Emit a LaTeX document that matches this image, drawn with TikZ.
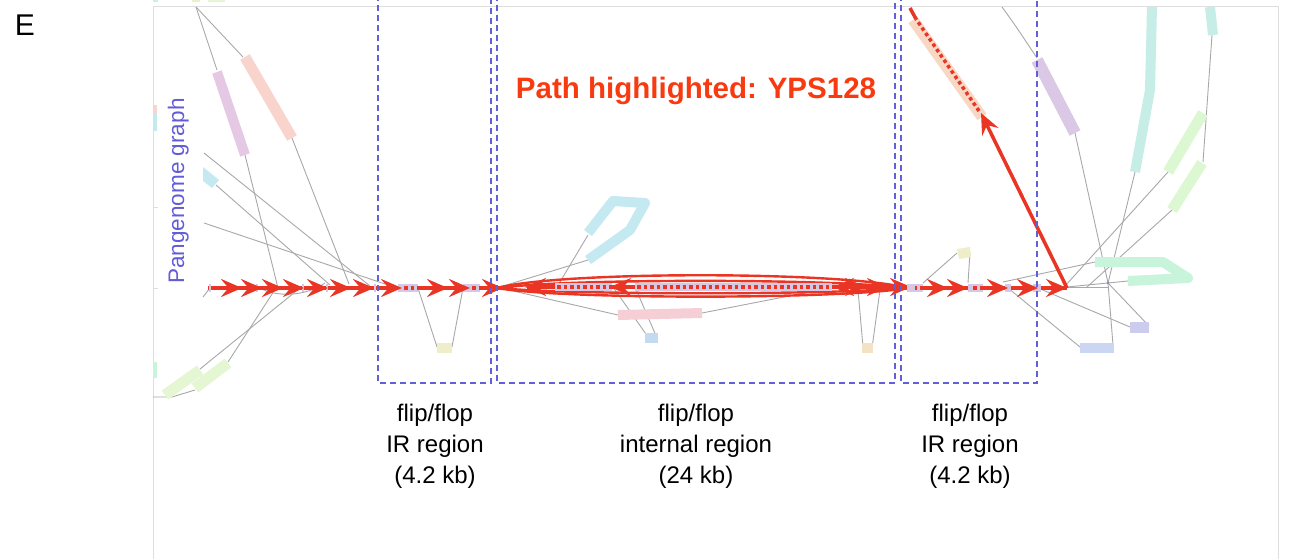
\documentclass[tikz,border=0pt]{standalone}
\usepackage{fontspec}
\setmainfont{Liberation Sans}
\usetikzlibrary{arrows.meta}
\definecolor{redp}{RGB}{234,52,36}
\definecolor{titlered}{RGB}{248,58,16}
\definecolor{boxblue}{RGB}{98,96,214}
\definecolor{pangblue}{RGB}{98,92,214}
\definecolor{linkgray}{RGB}{168,168,172}
\definecolor{framegray}{RGB}{222,222,222}
\definecolor{lav}{RGB}{212,200,228}
\definecolor{cpurple}{RGB}{228,200,228}
\definecolor{cpeach}{RGB}{248,212,204}
\definecolor{ccyan}{RGB}{196,233,240}
\definecolor{cgreen}{RGB}{228,247,210}
\definecolor{cyellow}{RGB}{238,238,200}
\definecolor{cpink}{RGB}{245,206,214}
\definecolor{cblue}{RGB}{196,218,242}
\definecolor{corange}{RGB}{244,226,196}
\definecolor{cteal}{RGB}{198,238,230}
\definecolor{cmint}{RGB}{200,244,220}
\definecolor{cviolet}{RGB}{204,204,238}
\definecolor{cblueb}{RGB}{202,214,242}
\definecolor{cpurpleb}{RGB}{218,200,230}
\definecolor{cpeachb}{RGB}{248,216,196}
\definecolor{cgreenb}{RGB}{220,248,210}
\tikzset{
  link/.style={draw=linkgray, line width=0.9pt},
  segbar/.style={line width=#1, line cap=butt, line join=round},
  redline/.style={draw=redp, line width=3.5pt},
  loopline/.style={draw=redp, line width=2.4pt},
  reddot/.style={draw=redp, line width=3.5pt, dash pattern=on 3.5pt off 3pt},
  redarrow/.style={draw=redp, line width=3.5pt, -{Stealth[length=21pt,width=18pt,inset=7.5pt]}},
  boxline/.style={draw=boxblue, line width=1.8pt, dash pattern=on 6pt off 4pt},
  gnode/.style={fill=lav},
  lbl/.style={font=\fontsize{24}{28}\selectfont, anchor=base, inner sep=0pt},
}
\begin{document}
\begin{tikzpicture}[x=1pt,y=-1pt]
\clip (0,0) rectangle (1300,559);
\fill[white] (0,0) rectangle (1300,559);
% frame
\draw[framegray, line width=1pt] (153,570) -- (153,7) -- (1278,7) -- (1278,570);
\draw[framegray, line width=1pt] (153,207) -- (158,207) (153,288) -- (158,288);
% bits at edges
\fill[cmint] (153,0) rectangle (158,2);
\fill[cyellow] (192,0) rectangle (200,2);
\fill[cgreen] (208,0) rectangle (225,2);
\fill[cpeach] (153,105) rectangle (157,113);
\fill[ccyan] (153,113) rectangle (157,131);
\fill[cmint] (153,362) rectangle (157,378);

% ---------------- left side graph
\draw[link] (196,7) -- (217,70);
\draw[link] (196,7) -- (243,57);
\draw[link] (245,155) -- (278,288);
\draw[link] (292,138) -- (349,284);
\draw[link] (204,153) -- (370,286);
\draw[link] (216,185) -- (330,285);
\draw[link] (204,223) -- (385,284);
\draw[link] (260,288) .. controls (275,297) and (305,297) .. (325,283);
\draw[link] (203,297) -- (210,288);
\draw[link] (200,369) -- (300,288);
\draw[link] (228,362) -- (276,288);
\draw[link] (153,397) -- (172,397) -- (195,390);
\draw[segbar=10pt, cpurple] (217,72) -- (245,155);
\draw[segbar=11pt, cpeach] (245,57) -- (292,138);
\fill[ccyan] (203,167) -- (219,180) -- (212,188) -- (203,181) -- cycle;
\draw[segbar=11pt, cgreen] (165,395) -- (200,370);
\draw[segbar=11pt, cgreen] (195,388) -- (228,363);

% ---------------- left IR region
\draw[link] (418,288) -- (437,347);
\draw[link] (463,288) -- (452,347);
\fill[cyellow] (437,343) rectangle (452,353);

% ---------------- internal region
\draw[link] (500,287) -- (588,260);
\draw[link] (557,287) -- (588,235);
\draw[link] (500,288) -- (618,315);
\draw[link] (702,313) -- (830,288);
\draw[link] (613,287) -- (648,337);
\draw[link] (635,287) -- (657,338);
\draw[link] (858,290) -- (863,347);
\draw[link] (880,290) -- (872,348);
\draw[segbar=10pt, ccyan] (588,233) -- (613,201) -- (645,203) -- (630,230) -- (588,260);
\draw[segbar=10pt, cpink] (618,315) -- (702,313);
\fill[cblue] (645,333) rectangle (658,343);
\fill[corange] (862,343) rectangle (873,353);

% ---------------- right IR region
\draw[link] (923,283) -- (957,253);
\draw[link] (970,252) -- (968,283);
\fill[cyellow] (957,249) -- (970,247) -- (971,257) -- (959,259) -- cycle;

% ---------------- right side graph
\draw[link] (1002,7) .. controls (1015,25) .. (1037,58);
\draw[link] (1075,133) -- (1108,283) -- (1113,345);
\draw[link] (1135,172) -- (1108,283);
\draw[link] (1212,35) -- (1203,162);
\draw[link] (1168,172) -- (1065,286);
\draw[link] (1172,210) -- (1087,287);
\draw[link] (1003,282) -- (1095,262);
\draw[link] (1067,287) -- (1128,281);
\draw[link] (1067,287) -- (1108,287);
\draw[link] (1038,288) -- (1130,327);
\draw[link] (1108,283) -- (1149,326);
\draw[link] (1008,288) -- (1080,347);
\draw[segbar=12pt, cpurpleb] (1037,60) -- (1075,133);
\draw[segbar=10pt, cteal] (1152,7) -- (1150,90) -- (1135,172);
\draw[segbar=10pt, cteal] (1210,7) -- (1213,35);
\draw[segbar=11pt, cgreenb] (1203,113) -- (1168,172);
\draw[segbar=11pt, cgreenb] (1202,163) -- (1172,210);
\draw[segbar=10pt, cmint] (1095,262) -- (1163,262) -- (1188,278) -- (1128,281);
\fill[cviolet] (1130,322) rectangle (1149,333);
\fill[cblueb] (1080,343) rectangle (1114,353);
\fill[linkgray!70!blue] (1108,283) circle (1.2pt);

% ---------------- highlighted path
% left part
\draw[redline] (208,288) -- (500,288);
\foreach \x in {210,257,303,327,375} \fill[lav] (\x-1,284) rectangle (\x+1,292);
\fill[gnode] (398,284) rectangle (418,292);
\fill[gnode] (463,284) rectangle (480,292);
\foreach \t in {242,262,283,304,328,351,374,402,448,470,503}
  \draw[redarrow] (\t-23,288) -- (\t,288);
\draw[reddot] (404,288) -- (418,288);
\draw[reddot] (472,288) -- (480,288);
% internal loop
\draw[loopline] (497,288) .. controls (560,271) and (840,271) .. (908,288)
               .. controls (840,299.5) and (560,299.5) .. cycle;
\draw[loopline] (500,288) .. controls (560,278.5) and (840,278.5) .. (902,288)
               .. controls (840,295) and (560,295) .. cycle;
\fill[gnode] (555,283) rectangle (612,291);
\fill[gnode] (635,283) rectangle (832,291);
\draw[redline] (527,287) -- (555,287) (612,287) -- (635,287) (832,287) -- (905,287);
\draw[reddot] (557,287) -- (612,287);
\draw[reddot] (637,287) -- (832,287);
\foreach \t in {525,610,833}
  \draw[redarrow] (\t+23,287) -- (\t,287);
\foreach \t in {866,888,911}
  \draw[redarrow] (\t-23,287) -- (\t,287);
% right part
\draw[redline] (905,288) -- (1067,288);
\fill[gnode] (907,284) rectangle (923,292);
\fill[gnode] (968,284) rectangle (983,292);
\fill[gnode] (1005,284) rectangle (1011,292);
\fill[gnode] (1033,284) rectangle (1041,292);
\foreach \t in {948,968,1008,1038,1067}
  \draw[redarrow] (\t-23,288) -- (\t,288);
\draw[reddot] (923,288) -- (915,288);
\draw[reddot] (983,288) -- (973,288);
\draw[segbar=11pt, cpeachb] (913,20) -- (982,117);
\draw[redarrow] (1067,288) -- (981,113);
\draw[reddot] (979,111) -- (916,19);
\draw[redline] (916,19) -- (910,8);

% ---------------- dashed region boxes
\draw[boxline] (378,-5) -- (378,383) -- (491,383) -- (491,-5);
\draw[boxline] (497,-5) -- (497,383) -- (895,383) -- (895,-5);
\draw[boxline] (901,-5) -- (901,383) -- (1037,383) -- (1037,-5);

% ---------------- texts
\node[anchor=base, inner sep=0pt, font=\fontsize{30}{36}\selectfont] at (25,36) {E};
\node[anchor=base, inner sep=0pt, rotate=90, text=pangblue, font=\fontsize{22.5}{27}\selectfont] at (184,191) {Pangenome graph};
\node[anchor=base, inner sep=0pt, text=titlered, font=\bfseries\fontsize{29.5}{34}\selectfont] at (696,99) {Path highlighted: YPS128};
\node[lbl] at (435,421) {flip/flop};
\node[lbl] at (435,452) {IR region};
\node[lbl] at (435,483) {(4.2 kb)};
\node[lbl] at (696,421) {flip/flop};
\node[lbl] at (696,452) {internal region};
\node[lbl] at (696,483) {(24 kb)};
\node[lbl] at (970,421) {flip/flop};
\node[lbl] at (970,452) {IR region};
\node[lbl] at (970,483) {(4.2 kb)};
\end{tikzpicture}
\end{document}
